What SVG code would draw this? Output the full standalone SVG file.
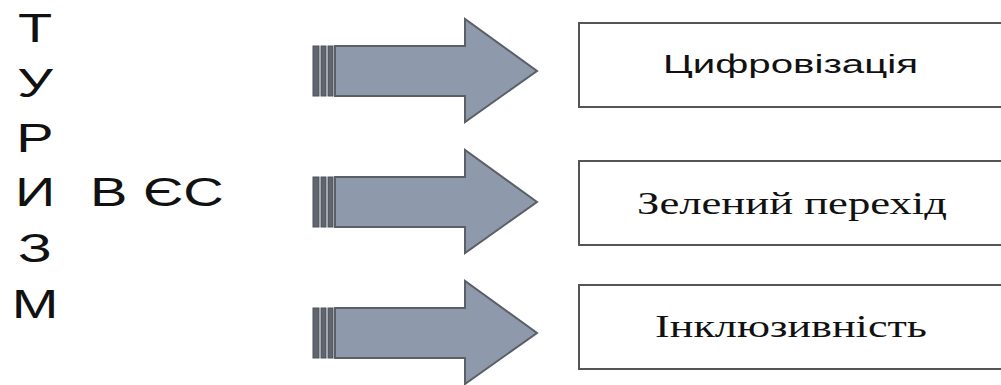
<svg xmlns="http://www.w3.org/2000/svg" width="1001" height="385" viewBox="0 0 1001 385">
<defs>
<style>
.sans{font-family:"Liberation Sans",Arial,sans-serif;fill:#111}
.serif{font-family:"Liberation Serif","Times New Roman",serif;fill:#111}
.box{fill:#fff;stroke:#555;stroke-width:2}
.arr{fill:#8e9aab;stroke:#5b5f66;stroke-width:2;stroke-linejoin:miter}
.stripe{fill:#5f6670;stroke:#4e535a;stroke-width:1}
</style>
<g id="arrowShape">
<rect class="stripe" x="313" y="46" width="6" height="50"/>
<rect class="stripe" x="321" y="46" width="5" height="50"/>
<rect class="stripe" x="328" y="46" width="5" height="50"/>
<path class="arr" d="M335,46 H465 V19 L537,71 L465,122 V96 H335 Z"/>
</g>
</defs>
<rect width="1001" height="385" fill="#fff"/>
<g id="title">
<g transform="translate(35,0) scale(1.4,1)" class="sans" font-size="40" text-anchor="middle">
<text x="0" y="42">Т</text>
<text x="0" y="97">У</text>
<text x="0" y="152">Р</text>
<text x="0" y="206">И</text>
<text x="0" y="262">З</text>
<text x="0" y="318">М</text>
</g>
<g transform="translate(90,0) scale(1.4,1)" class="sans" font-size="40">
<text x="0" y="206">В ЄС</text>
</g>
</g>
<g id="connectors">
<use href="#arrowShape"/>
<use href="#arrowShape" transform="translate(0,131)"/>
<use href="#arrowShape" transform="translate(0,262)"/>
</g>
<g id="node-digital">
<rect class="box" x="579" y="23" width="440" height="84"/>
<text class="sans" x="663" y="73" font-size="26" textLength="255" lengthAdjust="spacingAndGlyphs">Цифровізація</text>
</g>
<g id="node-green">
<rect class="box" x="579" y="161" width="440" height="84"/>
<text class="serif" x="637" y="214" font-size="32" textLength="310" lengthAdjust="spacingAndGlyphs">Зелений перехід</text>
</g>
<g id="node-inclusive">
<rect class="box" x="579" y="285" width="440" height="84"/>
<text class="serif" x="655" y="337" font-size="32" textLength="272" lengthAdjust="spacingAndGlyphs">Інклюзивність</text>
</g>
</svg>
